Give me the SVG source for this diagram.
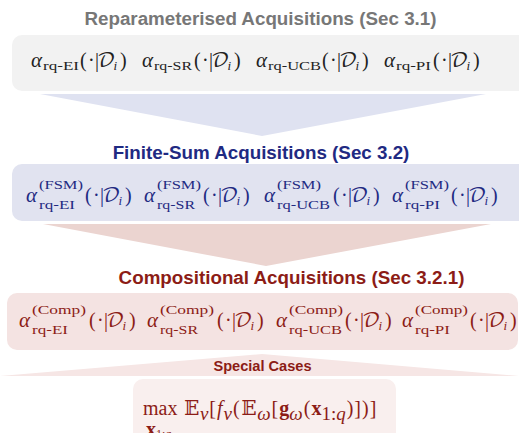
<svg xmlns="http://www.w3.org/2000/svg" width="519" height="433" viewBox="0 0 519 433">
<style>
.t{font-family:"Liberation Sans",Arial,sans-serif;font-weight:bold;font-size:18.8px;text-anchor:middle}
.m{font-family:"Liberation Serif","Times New Roman",serif;font-size:20px}
.i{font-style:italic}
.a{font-style:italic;font-size:21px}
.s{font-size:13px}
.p{font-size:13.5px}
.cal{font-family:"DejaVu Math TeX Gyre","DejaVu Serif","DejaVu Sans",serif;font-style:normal;font-size:20px}
.bb{font-family:"DejaVu Math TeX Gyre","DejaVu Sans",serif}
.b{font-weight:bold}
.c1{fill:#222}
.c2{fill:#1f2a82}
.c3{fill:#8c1c16}
</style>
<g id="connectors">
<polygon points="40,94 486,94 262,136" fill="#dfe2f1"/>
<polygon points="43,224 491,224 266,266" fill="#ebd4d0"/>
<polygon points="0,376 262,354 519,376" fill="#f6e6e5"/>
</g>
<g id="reparam">
<text class="t" x="260.5" y="25" fill="#777">Reparameterised Acquisitions (Sec 3.1)</text>
<rect x="12" y="35" width="530" height="56" rx="10" fill="#f2f2f2"/>
<text class="m c1"><tspan class="a" x="31" y="67">α</tspan><tspan class="s" x="43" y="70" textLength="36" lengthAdjust="spacingAndGlyphs">rq-EI</tspan><tspan x="80" y="67">(</tspan><tspan x="88" y="67">·</tspan><tspan x="95" y="67">|</tspan><tspan class="cal" x="97" y="67">𝒟</tspan><tspan class="s i" x="113.5" y="70">i</tspan><tspan x="120" y="67">)</tspan></text>
<text class="m c1"><tspan class="a" x="142" y="67">α</tspan><tspan class="s" x="154" y="70" textLength="38" lengthAdjust="spacingAndGlyphs">rq-SR</tspan><tspan x="194" y="67">(</tspan><tspan x="202" y="67">·</tspan><tspan x="209" y="67">|</tspan><tspan class="cal" x="211" y="67">𝒟</tspan><tspan class="s i" x="227.5" y="70">i</tspan><tspan x="234" y="67">)</tspan></text>
<text class="m c1"><tspan class="a" x="256" y="67">α</tspan><tspan class="s" x="268" y="70" textLength="53" lengthAdjust="spacingAndGlyphs">rq-UCB</tspan><tspan x="322" y="67">(</tspan><tspan x="330" y="67">·</tspan><tspan x="337" y="67">|</tspan><tspan class="cal" x="339" y="67">𝒟</tspan><tspan class="s i" x="355.5" y="70">i</tspan><tspan x="362" y="67">)</tspan></text>
<text class="m c1"><tspan class="a" x="384" y="67">α</tspan><tspan class="s" x="396" y="70" textLength="35" lengthAdjust="spacingAndGlyphs">rq-PI</tspan><tspan x="433" y="67">(</tspan><tspan x="441" y="67">·</tspan><tspan x="448" y="67">|</tspan><tspan class="cal" x="450" y="67">𝒟</tspan><tspan class="s i" x="466.5" y="70">i</tspan><tspan x="473" y="67">)</tspan></text>
</g>
<g id="finite-sum">
<text class="t c2" x="261" y="159">Finite-Sum Acquisitions (Sec 3.2)</text>
<rect x="12" y="164" width="530" height="57" rx="10" fill="#e1e3f0"/>
<text class="m c2"><tspan class="a" x="26" y="202">α</tspan><tspan class="p" x="39" y="189" textLength="44" lengthAdjust="spacingAndGlyphs">(FSM)</tspan><tspan class="s" x="39" y="209" textLength="36" lengthAdjust="spacingAndGlyphs">rq-EI</tspan><tspan x="85" y="202">(</tspan><tspan x="93" y="202">·</tspan><tspan x="100" y="202">|</tspan><tspan class="cal" x="102" y="202">𝒟</tspan><tspan class="s i" x="118.5" y="205">i</tspan><tspan x="125" y="202">)</tspan></text>
<text class="m c2"><tspan class="a" x="144" y="202">α</tspan><tspan class="p" x="157" y="189" textLength="44" lengthAdjust="spacingAndGlyphs">(FSM)</tspan><tspan class="s" x="157" y="209" textLength="38" lengthAdjust="spacingAndGlyphs">rq-SR</tspan><tspan x="203" y="202">(</tspan><tspan x="211" y="202">·</tspan><tspan x="218" y="202">|</tspan><tspan class="cal" x="220" y="202">𝒟</tspan><tspan class="s i" x="236.5" y="205">i</tspan><tspan x="243" y="202">)</tspan></text>
<text class="m c2"><tspan class="a" x="264" y="202">α</tspan><tspan class="p" x="277" y="189" textLength="44" lengthAdjust="spacingAndGlyphs">(FSM)</tspan><tspan class="s" x="277" y="209" textLength="53" lengthAdjust="spacingAndGlyphs">rq-UCB</tspan><tspan x="333" y="202">(</tspan><tspan x="341" y="202">·</tspan><tspan x="348" y="202">|</tspan><tspan class="cal" x="350" y="202">𝒟</tspan><tspan class="s i" x="366.5" y="205">i</tspan><tspan x="373" y="202">)</tspan></text>
<text class="m c2"><tspan class="a" x="392" y="202">α</tspan><tspan class="p" x="405" y="189" textLength="44" lengthAdjust="spacingAndGlyphs">(FSM)</tspan><tspan class="s" x="405" y="209" textLength="35" lengthAdjust="spacingAndGlyphs">rq-PI</tspan><tspan x="451" y="202">(</tspan><tspan x="459" y="202">·</tspan><tspan x="466" y="202">|</tspan><tspan class="cal" x="468" y="202">𝒟</tspan><tspan class="s i" x="484.5" y="205">i</tspan><tspan x="491" y="202">)</tspan></text>
</g>
<g id="compositional">
<text class="t c3" x="291.5" y="284">Compositional Acquisitions (Sec 3.2.1)</text>
<rect x="7" y="293" width="511" height="57" rx="10" fill="#f4e3e2"/>
<text class="m c3"><tspan class="a" x="19" y="327">α</tspan><tspan class="p" x="32" y="314" textLength="54" lengthAdjust="spacingAndGlyphs">(Comp)</tspan><tspan class="s" x="32" y="334" textLength="36" lengthAdjust="spacingAndGlyphs">rq-EI</tspan><tspan x="89" y="327">(</tspan><tspan x="97" y="327">·</tspan><tspan x="104" y="327">|</tspan><tspan class="cal" x="106" y="327">𝒟</tspan><tspan class="s i" x="122.5" y="330">i</tspan><tspan x="129" y="327">)</tspan></text>
<text class="m c3"><tspan class="a" x="147" y="327">α</tspan><tspan class="p" x="160" y="314" textLength="54" lengthAdjust="spacingAndGlyphs">(Comp)</tspan><tspan class="s" x="160" y="334" textLength="38" lengthAdjust="spacingAndGlyphs">rq-SR</tspan><tspan x="217" y="327">(</tspan><tspan x="225" y="327">·</tspan><tspan x="232" y="327">|</tspan><tspan class="cal" x="234" y="327">𝒟</tspan><tspan class="s i" x="250.5" y="330">i</tspan><tspan x="257" y="327">)</tspan></text>
<text class="m c3"><tspan class="a" x="276" y="327">α</tspan><tspan class="p" x="289" y="314" textLength="54" lengthAdjust="spacingAndGlyphs">(Comp)</tspan><tspan class="s" x="289" y="334" textLength="53" lengthAdjust="spacingAndGlyphs">rq-UCB</tspan><tspan x="345" y="327">(</tspan><tspan x="353" y="327">·</tspan><tspan x="360" y="327">|</tspan><tspan class="cal" x="362" y="327">𝒟</tspan><tspan class="s i" x="378.5" y="330">i</tspan><tspan x="385" y="327">)</tspan></text>
<text class="m c3"><tspan class="a" x="402" y="327">α</tspan><tspan class="p" x="415" y="314" textLength="53" lengthAdjust="spacingAndGlyphs">(Comp)</tspan><tspan class="s" x="415" y="334" textLength="35" lengthAdjust="spacingAndGlyphs">rq-PI</tspan><tspan x="470" y="327">(</tspan><tspan x="478" y="327">·</tspan><tspan x="485" y="327">|</tspan><tspan class="cal" x="487" y="327">𝒟</tspan><tspan class="s i" x="503.5" y="330">i</tspan><tspan x="510" y="327">)</tspan></text>
</g>
<g id="special-cases">
<text x="262.5" y="371" font-family="Liberation Sans, Arial, sans-serif" font-weight="bold" font-size="14.6" text-anchor="middle" class="c3">Special Cases</text>
<rect x="133" y="379" width="263" height="70" rx="10" fill="#f9efee"/>
<text class="m c3" x="143" y="415" font-size="29">max<tspan class="bb" dx="6">𝔼</tspan><tspan class="i" font-size="19" dy="5">ν</tspan><tspan dx="1" dy="-5">[</tspan><tspan class="i" dx="1">f</tspan><tspan class="i" font-size="19" dx="1" dy="5">ν</tspan><tspan dx="1" dy="-5">(</tspan><tspan class="bb" dx="1">𝔼</tspan><tspan class="i" font-size="19" dy="5">ω</tspan><tspan dx="1" dy="-5">[</tspan><tspan class="b" dx="1">g</tspan><tspan class="i" font-size="19" dy="5">ω</tspan><tspan dx="1" dy="-5">(</tspan><tspan class="b" dx="1">x</tspan><tspan font-size="19" dy="5">1:<tspan class="i">q</tspan></tspan><tspan dx="1" dy="-5" letter-spacing="1">)])]</tspan></text>
<text class="m c3" x="146" y="436" font-size="16"><tspan class="b">x</tspan><tspan font-size="12" dy="2">1:<tspan class="i">q</tspan></tspan></text>
</g>
</svg>
